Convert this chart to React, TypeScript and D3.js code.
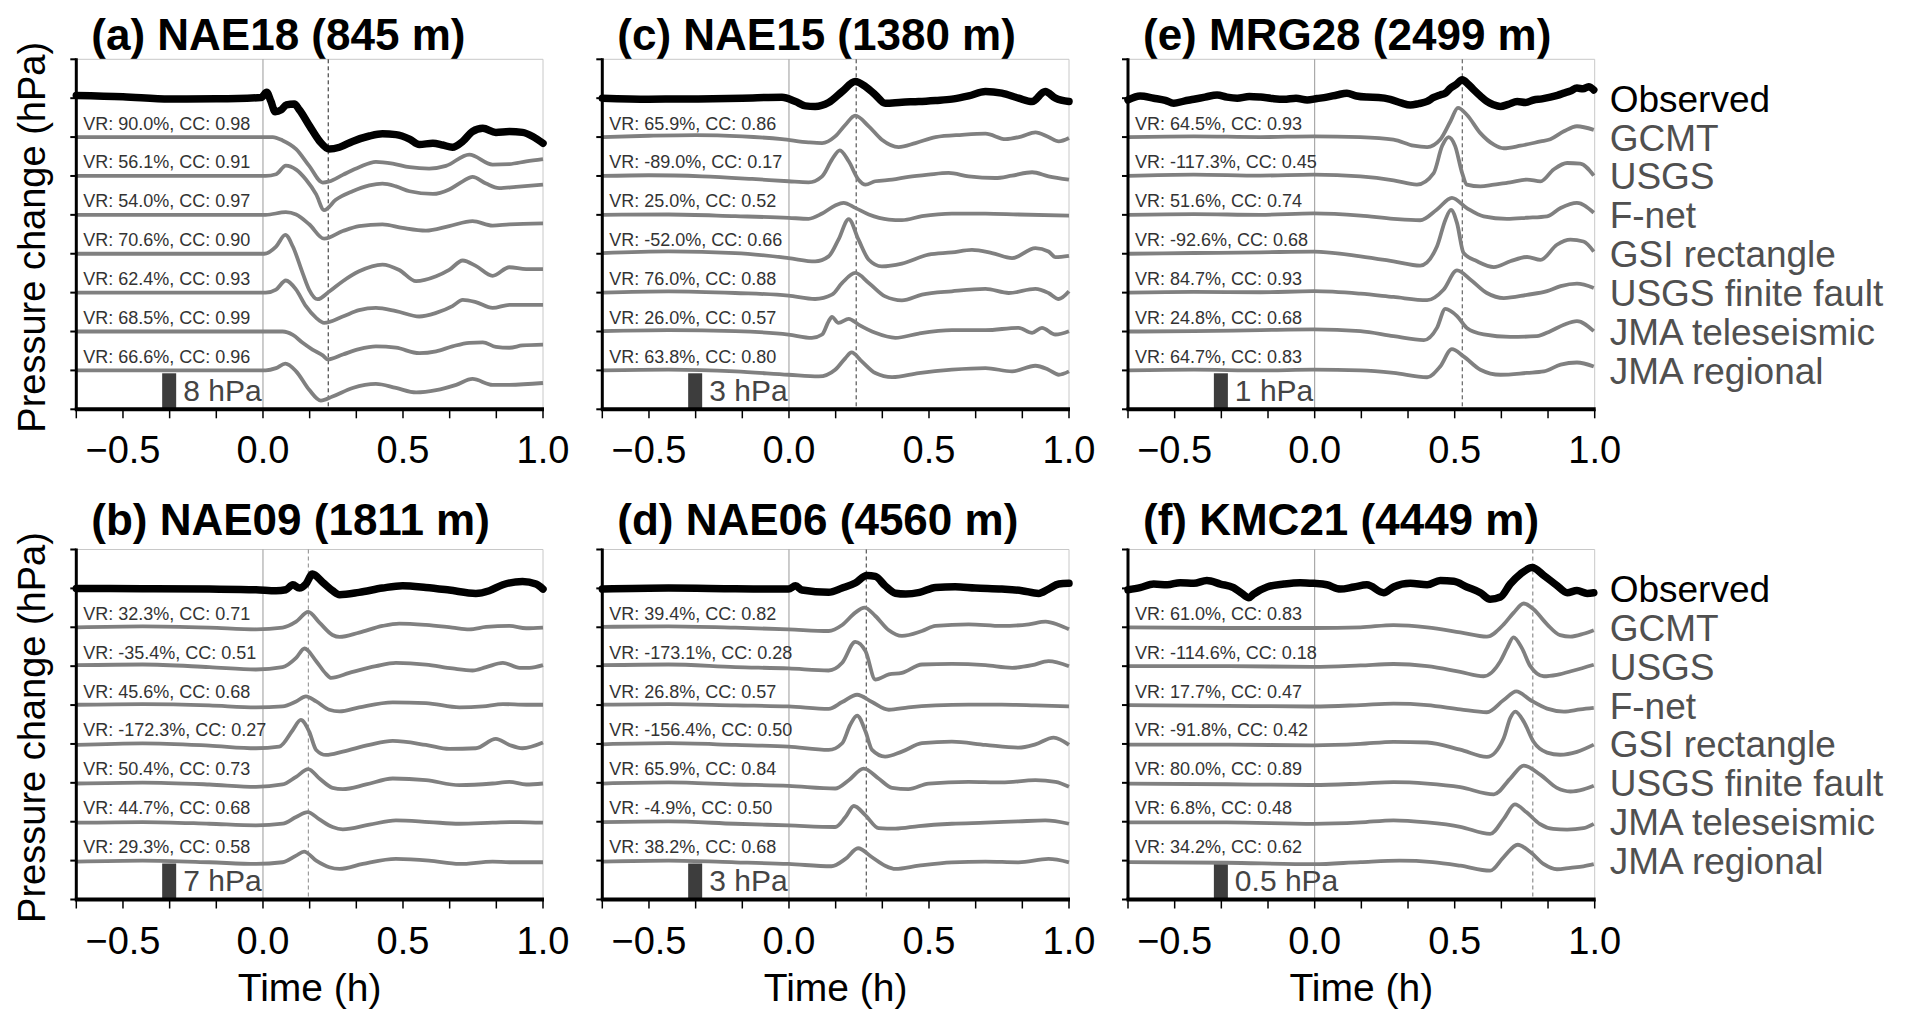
import * as d3 from "d3";

// ---- labels ----
const modelNames = ["GCMT", "USGS", "F-net", "GSI rectangle", "USGS finite fault", "JMA teleseismic", "JMA regional"];
const legendNames = ["Observed", ...modelNames];
const panelTitles = ["(a) NAE18 (845 m)", "(b) NAE09 (1811 m)", "(c) NAE15 (1380 m)", "(d) NAE06 (4560 m)", "(e) MRG28 (2499 m)", "(f) KMC21 (4449 m)"];
const barHpa = [8, 7, 3, 3, 1, 0.5];
const arrivalH = [0.233, 0.162, 0.24, 0.276, 0.527, 0.779];
const xTickMinutes = [-40, -30, -20, -10, 0, 10, 20, 30, 40, 50, 60];
const xLabelValues = [-0.5, 0, 0.5, 1.0];

const vrA = [90.0, 56.1, 54.0, 70.6, 62.4, 68.5, 66.6];
const ccA = [0.98, 0.91, 0.97, 0.90, 0.93, 0.99, 0.96];
const vrB = [32.3, -35.4, 45.6, -172.3, 50.4, 44.7, 29.3];
const ccB = [0.71, 0.51, 0.68, 0.27, 0.73, 0.68, 0.58];
const vrC = [65.9, -89.0, 25.0, -52.0, 76.0, 26.0, 63.8];
const ccC = [0.86, 0.17, 0.52, 0.66, 0.88, 0.57, 0.80];
const vrD = [39.4, -173.1, 26.8, -156.4, 65.9, -4.9, 38.2];
const ccD = [0.82, 0.28, 0.57, 0.50, 0.84, 0.50, 0.68];
const vrE = [64.5, -117.3, 51.6, -92.6, 84.7, 24.8, 64.7];
const ccE = [0.93, 0.45, 0.74, 0.68, 0.93, 0.68, 0.83];
const vrF = [61.0, -114.6, 17.7, -91.8, 80.0, 6.8, 34.2];
const ccF = [0.83, 0.18, 0.47, 0.42, 0.89, 0.48, 0.62];

// ---- waveforms: [minutes, hPa] ----
const obsA = [[-40,0.6],[-30,0.3],[-20,-0.2],[-10,-0.15],[-0.4,0.15],[0.8,1.3],[1.7,-0.7],[2.6,-3.0],[3.9,-2.6],[5,-1.5],[6.7,-1.3],[7.8,-2.6],[10,-6.2],[12.1,-9.5],[14.2,-11.3],[16.4,-10.9],[19.2,-9.6],[22.8,-8.4],[25.6,-7.9],[28.5,-8.1],[31.4,-9.1],[33.5,-10.3],[36.4,-10],[38.5,-10.4],[40.6,-10.9],[42.8,-9.6],[44.9,-7.4],[47.1,-6.7],[49.9,-7.6],[52.8,-7.4],[55.6,-7.6],[57.8,-8.5],[60,-10]];
const modA = [
  [[-40,0],[2.1,0],[4.2,-0.74],[7.1,-2.67],[9.9,-6.4],[12.8,-10.1],[14.2,-9.85],[17.1,-8.4],[20.6,-6.7],[24.2,-5.5],[27.8,-5.9],[31.4,-6.7],[35.6,-7.0],[39.2,-6.4],[44.2,-3.9],[49.2,-6.1],[52.8,-6.0],[56.4,-5.4],[60,-4.9]],
  [[-40,0],[0.6,0],[2.8,0.37],[4.9,2.3],[7.1,1.4],[9.2,-0.8],[11.4,-4.1],[13.1,-7.6],[15.6,-5.3],[19.2,-3.4],[22.8,-2.1],[25.6,-1.7],[28.5,-2.3],[31.4,-3.4],[36.4,-4.0],[39.9,-3.0],[42.8,-1.2],[44.9,-0.2],[47.8,-1.7],[50.6,-2.7],[54.2,-2.4],[60,-1.9]],
  [[-40,0],[0.6,0],[4.9,0.6],[7.1,0.07],[9.9,-2.1],[13.1,-5.3],[17.1,-3.6],[20.6,-2.5],[25.6,-2.1],[29.9,-2.9],[34.9,-3.5],[39.9,-2.5],[44.9,-1.4],[49.2,-2.4],[52.8,-2.1],[60,-1.9]],
  [[-40,0],[0.3,0],[2.8,1.6],[4.8,4.2],[6.4,1.6],[8.5,-4.3],[9.9,-8.0],[11.7,-10.1],[14.2,-8.4],[17.1,-6.1],[20.6,-3.9],[25.6,-2.4],[29.2,-3.6],[32.8,-6.1],[37.1,-5.0],[39.9,-3.6],[42.8,-1.5],[45.6,-2.7],[49.2,-4.9],[52.8,-3.0],[56.4,-3.4],[60,-3.4]],
  [[-40,0],[0.6,0],[2.8,0.67],[4.9,2.7],[7.1,0.67],[9.2,-3.0],[11.4,-5.6],[13.1,-6.7],[17.1,-5.3],[20.6,-3.9],[24.2,-3.4],[28.5,-4.1],[33.5,-5.3],[37.1,-4.5],[40.6,-3.0],[42.8,-1.6],[45.6,-2.1],[49.2,-3.4],[52.8,-2.7],[60,-2.7]],
  [[-40,0],[4.2,0],[6.4,-0.74],[8.5,-2.5],[10.6,-4.0],[12.8,-5.3],[13.9,-6.2],[17.1,-5.1],[20.6,-3.9],[24.2,-3.3],[28.5,-3.6],[33.5,-4.8],[37.1,-4.4],[40.6,-3.3],[44.2,-2.5],[47.1,-2.4],[49.9,-3.4],[52.8,-3.6],[55.6,-3.1],[60,-2.9]],
  [[-40,0],[0.6,0],[2.8,0.5],[4.8,1.5],[7.1,-0.2],[9.9,-4.3],[12.4,-6.7],[14.9,-5.8],[19.2,-3.9],[24.2,-3.0],[28.5,-3.9],[32.8,-4.9],[37.1,-4.4],[41.4,-3.2],[44.9,-1.9],[49.2,-3.2],[52.8,-3.2],[60,-2.8]],
];

const obsB = [[-40,0],[-25.8,-0.06],[-11.5,-0.13],[-1.5,-0.26],[2.8,-0.45],[4.9,-0.26],[6.4,0.71],[7.8,0.06],[9.2,0.84],[10.6,2.79],[12.8,1.17],[14.9,-0.45],[16.4,-1.23],[20.6,-0.78],[25.6,0.06],[29.9,0.52],[34.9,0.19],[39.9,-0.32],[45.6,-0.97],[48.5,-0.45],[51.4,0.71],[55.6,1.36],[58.5,0.84],[60,-0.13]];
const modB = [
  [[-40,0],[-25.8,0.19],[-11.5,-0.06],[-1.5,-0.39],[4.2,-0.06],[7.1,1.1],[9.7,2.98],[12.1,0.91],[14.9,-1.49],[16.4,-1.88],[20.6,-1.04],[25.6,0.26],[29.2,0.71],[34.9,0.45],[40.6,-0.06],[44.2,-0.39],[47.8,0.06],[52.8,0.26],[56.4,-0.19],[60,-0.06]],
  [[-40,0.19],[-25.8,0.32],[-11.5,-0.19],[-1.5,-0.65],[4.2,-0.19],[7.1,1.62],[8.9,3.43],[11.4,0.97],[13.5,-1.49],[14.6,-2.27],[18.5,-1.3],[24.2,0],[28.5,0.65],[34.9,0.32],[40.6,-0.45],[44.9,-0.84],[47.8,-0.19],[51.4,0.65],[55,-0.32],[57.1,-0.32],[60,0.19]],
  [[-40,0.06],[-25.8,0.19],[-11.5,-0.06],[-1.5,-0.45],[4.2,-0.26],[7.1,0.71],[9.2,1.69],[11.4,0.71],[14.2,-0.91],[16.4,-1.23],[20.6,-0.45],[27.8,0.52],[34.9,0.39],[42.1,-0.45],[47.1,-0.26],[51.4,0.19],[56.4,0.06],[60,0.06]],
  [[-40,-0.19],[-25.8,0.13],[-11.5,-0.32],[-1.5,-0.84],[3.5,-0.52],[6.4,2.72],[8.1,4.67],[9.9,2.4],[11.4,-1.17],[13.5,-2.14],[17.1,-1.49],[22.8,-0.19],[27.8,0.58],[34.9,-0.19],[39.9,-0.97],[45.6,-0.84],[49.9,0.97],[52.8,-0.19],[55.6,-0.84],[60,0.26]],
  [[-40,-0.13],[-25.8,0.06],[-11.5,-0.32],[-1.5,-0.78],[4.2,-0.32],[7.1,1.17],[9.7,2.66],[12.1,0.84],[14.9,-0.97],[17.1,-1.23],[22.1,-0.32],[27.8,0.84],[34.9,0.52],[42.1,-0.45],[49.2,-0.13],[52.8,0.19],[56.4,-0.32],[60,-0.13]],
  [[-40,-0.19],[-25.8,-0.06],[-11.5,-0.39],[-1.5,-0.71],[4.2,-0.39],[7.1,0.91],[9.6,1.88],[12.1,0.45],[14.9,-1.04],[17.1,-1.49],[22.8,-0.58],[28.5,0.26],[35.6,-0.06],[42.1,-0.39],[49.2,-0.19],[54.9,-0.06],[60,-0.19]],
  [[-40,-0.19],[-25.8,0],[-11.5,-0.32],[-1.5,-0.65],[4.2,-0.32],[7.1,0.97],[8.8,1.75],[11.4,0],[14.2,-1.3],[16.4,-1.62],[21.4,-0.65],[28.5,0.32],[35.6,0],[42.1,-0.65],[49.2,-0.19],[52.8,-0.32],[60,-0.32]],
];

const obsC = [[-40,0],[-30,-0.08],[-20,-0.06],[-10,0],[-1.5,0.08],[1.4,-0.28],[3.5,-0.64],[5.6,-0.69],[8.5,-0.36],[11.4,0.56],[14.2,1.39],[16.4,0.97],[18.5,0.28],[20.6,-0.42],[24.2,-0.33],[27.8,-0.28],[31.4,-0.19],[34.9,-0.08],[38.5,0.19],[42.1,0.56],[45.6,0.42],[49.2,0],[52.1,-0.28],[54.9,0.56],[57.1,0],[60,-0.28]];
const modC = [
  [[-40,0],[-30,0.11],[-20,0.17],[-10,0.06],[-1.5,-0.17],[4.2,-0.44],[7.1,-0.5],[9.9,0.06],[12.1,1.03],[14.2,1.78],[17.1,0.89],[19.9,-0.22],[23.5,-0.83],[27.1,-0.5],[31.4,0],[37.1,0.19],[42.1,0.28],[46.4,-0.17],[49.9,0.06],[52.8,0.39],[55.6,0],[57.8,-0.36],[60,-0.08]],
  [[-40,0],[-30,0.06],[-18.6,-0.03],[-7.9,-0.25],[-0.1,-0.44],[4.2,-0.53],[7.1,-0.03],[9.2,1.36],[10.9,2.14],[12.8,1.22],[14.9,-0.31],[16.4,-0.72],[18.5,-0.44],[22.1,-0.31],[25.6,-0.08],[29.9,0.11],[34.2,0.25],[38.5,-0.03],[44.2,-0.17],[47.8,0.03],[52.1,0.31],[55.6,-0.03],[60,-0.31]],
  [[-40,0],[-25.8,0.03],[-11.5,-0.11],[-0.1,-0.25],[4.2,-0.33],[7.1,0.11],[9.9,0.78],[11.7,1.0],[14.2,0.58],[17.1,0.03],[21.4,-0.39],[24.2,-0.44],[28.5,-0.11],[34.9,0.11],[42.1,0.11],[49.2,0.03],[60,-0.06]],
  [[-40,0.06],[-25.8,0.19],[-11.5,0.06],[-0.1,-0.36],[5.6,-0.64],[8.5,-0.22],[10.6,1.17],[12.8,2.89],[14.9,1.17],[17.1,-0.5],[19.9,-1.06],[24.2,-0.83],[29.9,-0.08],[34.9,0.11],[39.2,0.33],[43.5,0.06],[47.8,-0.36],[52.8,0.47],[55.6,0.19],[57.1,-0.28],[60,-0.17]],
  [[-40,0],[-25.8,0.11],[-11.5,-0.03],[-0.1,-0.25],[5.6,-0.53],[9.2,-0.17],[11.4,0.81],[14.2,1.64],[17.1,0.81],[20.6,-0.31],[24.2,-0.64],[28.5,-0.17],[34.9,0.11],[42.1,0.31],[47.1,-0.03],[52.8,0.31],[55.6,-0.03],[57.8,-0.53],[60,0.11]],
  [[-40,0.03],[-25.8,0.11],[-11.5,0.03],[-0.1,-0.25],[4.9,-0.53],[7.1,-0.25],[8.5,0.86],[9.2,1.22],[10.6,0.72],[12.8,1.06],[14.9,0.58],[18.5,-0.11],[22.8,-0.53],[27.8,-0.17],[34.9,0.11],[42.1,0.11],[49.2,0.31],[52.1,-0.11],[54.2,0.31],[57.1,-0.25],[60,0.03]],
  [[-40,0],[-25.8,0.06],[-11.5,-0.08],[-0.1,-0.36],[6.4,-0.5],[9.9,0.06],[12.1,1.03],[13.4,1.5],[15.6,0.75],[18.5,-0.22],[22.1,-0.56],[27.8,-0.22],[34.9,0.06],[42.1,0.19],[47.8,-0.08],[52.8,0.39],[55.6,0.06],[57.8,-0.36],[60,-0.08]],
];

const obsD = [[-40,-0.06],[-25.8,0.03],[-11.5,-0.03],[-0.1,-0.06],[1.4,0.22],[2.8,-0.14],[8.5,-0.33],[11.4,0.03],[14.2,0.45],[16.7,1.08],[18.5,1.0],[20.6,0.22],[22.8,-0.4],[25,-0.47],[28,-0.33],[31.4,0.08],[35.6,0.14],[39.9,0.03],[45.6,-0.06],[49.9,-0.19],[53.5,-0.42],[55.6,-0.06],[57.8,0.36],[60,0.42]];
const modD = [
  [[-40,0.03],[-25.8,0.08],[-11.5,-0.03],[-0.1,-0.17],[8.5,-0.31],[11.4,0.19],[14.2,1.22],[16.2,1.64],[18.5,0.94],[21.4,-0.25],[24.2,-0.72],[28.5,-0.31],[31.4,0.11],[38.5,0.25],[45.6,0.11],[51.4,0.25],[55,0.47],[57.8,0.19],[60,-0.17]],
  [[-40,0.08],[-25.8,0.14],[-11.5,-0.08],[-0.1,-0.19],[8.5,-0.36],[11.4,0.28],[14.2,2.03],[16.4,1.25],[18.5,-1.11],[21.4,-0.69],[24.2,-0.56],[28.5,0.14],[34.9,0.19],[42.1,0.08],[47.8,-0.14],[52.1,0.08],[55.6,0.42],[60,0]],
  [[-40,0.03],[-25.8,0.08],[-11.5,-0.03],[-0.1,-0.11],[8.5,-0.31],[11.4,0.25],[14.6,0.86],[17.8,0.25],[21.4,-0.39],[25.6,-0.19],[31.4,-0.03],[38.5,0.03],[45.6,0.03],[52.8,-0.03],[60,-0.11]],
  [[-40,-0.03],[-25.8,0.06],[-11.5,-0.08],[-0.1,-0.22],[8.5,-0.5],[11.4,0.06],[13.1,1.58],[14.6,2.36],[16.4,1.03],[17.8,-0.5],[20.6,-1.06],[24.2,-0.64],[28.5,0.06],[34.9,0.19],[42.1,-0.08],[49.2,-0.31],[52.8,-0.03],[56.7,0.53],[60,-0.08]],
  [[-40,-0.06],[-25.8,0.03],[-11.5,-0.14],[-0.1,-0.25],[9.9,-0.47],[12.8,0.22],[16,1.19],[19.2,0.36],[22.1,-0.42],[25.6,-0.53],[29.9,-0.06],[38.5,0.08],[45.6,0.03],[52.8,0.22],[57.1,0.08],[60,-0.33]],
  [[-40,-0.03],[-25.8,0.03],[-11.5,-0.17],[-0.1,-0.31],[9.9,-0.44],[12.1,0.39],[13.9,1.31],[16.4,0.53],[19.2,-0.53],[22.8,-0.58],[27.8,-0.36],[34.9,-0.17],[42.1,-0.08],[49.2,0.03],[54.9,0.11],[60,-0.17]],
  [[-40,-0.08],[-25.8,0],[-11.5,-0.14],[-0.1,-0.28],[9.1,-0.47],[12.1,0.14],[14.8,1.03],[17.8,0.28],[20.6,-0.42],[22.8,-0.69],[27.8,-0.42],[34.9,-0.14],[42.1,-0.08],[49.2,-0.14],[55.6,0.14],[60,-0.14]],
];

const obsE = [[-40,-0.05],[-37.4,0.06],[-34.5,0],[-32,-0.06],[-30.2,-0.14],[-28,-0.08],[-25.9,-0.03],[-23.5,0.03],[-20.9,0.09],[-18.8,0.03],[-16.6,0],[-14,0.05],[-11.6,0.03],[-9,-0.01],[-6.6,-0.03],[-4,0],[-1.6,-0.05],[0.5,-0.01],[2.6,0.03],[4.8,0.09],[6.9,0.14],[9,0.06],[11.2,0.03],[13.7,0.02],[16.2,-0.03],[18.5,-0.13],[20.5,-0.19],[22.3,-0.15],[24.1,-0.09],[25.5,0.02],[26.9,0.09],[28,0.14],[29.1,0.28],[30.3,0.38],[31.6,0.51],[32.8,0.4],[34.1,0.23],[35.5,0.06],[36.9,-0.09],[38.3,-0.18],[39.8,-0.23],[41.5,-0.17],[43.4,-0.09],[45.2,-0.12],[46.9,-0.05],[48.7,-0.02],[50.5,0.03],[52,0.08],[53.4,0.14],[54.8,0.2],[56.2,0.28],[57.5,0.26],[58.7,0.32],[59.8,0.23]];
const modE = [
  [[-40,0],[-25.9,0.02],[-11.6,0],[-0.2,0.02],[9.8,0],[16.9,-0.07],[21.2,-0.24],[24.1,-0.28],[26.9,-0.07],[29.1,0.44],[30.7,0.81],[32.6,0.62],[35.5,0.11],[38.4,-0.21],[40.5,-0.31],[44.1,-0.24],[48.4,-0.12],[50.5,-0.06],[53.4,0.16],[56.2,0.3],[59.8,0.2]],
  [[-40,0],[-25.9,0.04],[-11.6,0.01],[-0.2,0.04],[9.8,-0.01],[16.9,-0.12],[21.9,-0.24],[25.5,0.08],[27.3,0.83],[28.7,1.08],[30.1,0.83],[31.6,0.08],[32.6,-0.24],[35.5,-0.29],[38.4,-0.24],[41.9,-0.18],[45.5,-0.1],[48.4,-0.15],[51.2,0.18],[54.1,0.36],[56.9,0.34],[59.8,0.01]],
  [[-40,0],[-25.9,0.02],[-11.6,0],[-0.2,0.04],[9.8,-0.02],[16.9,-0.11],[22.6,-0.15],[26.2,0.15],[29.4,0.47],[32.6,0.19],[36.2,-0.04],[41.2,-0.11],[45.5,-0.08],[49.8,-0.04],[52.7,0.19],[56.2,0.33],[59.8,0.06]],
  [[-40,0],[-25.9,0.02],[-11.6,0.04],[-0.2,0.06],[9.8,-0.07],[16.9,-0.21],[22.6,-0.33],[26.2,0.2],[28,0.94],[29.2,1.22],[30.5,0.85],[31.9,0.02],[34.8,-0.21],[38.4,-0.37],[41.9,-0.21],[45.5,-0.09],[48.4,-0.17],[51.9,0.25],[54.8,0.39],[57.6,0.34],[59.8,0.06]],
  [[-40,0],[-25.9,0.02],[-11.6,0.01],[-0.2,0.04],[9.8,-0.03],[16.9,-0.12],[24.1,-0.21],[27.6,0.08],[30.5,0.62],[33.4,0.36],[36.9,-0.01],[40.5,-0.15],[45.5,-0.06],[49.8,0.04],[52.7,0.18],[56.2,0.25],[59.8,0.13]],
  [[-40,0],[-25.9,0.01],[-11.6,0.04],[-0.2,0.06],[9.8,0.01],[16.9,-0.13],[23.4,-0.24],[26.2,0.1],[28,0.63],[30.5,0.43],[32.6,0.1],[36.2,-0.08],[41.9,-0.15],[47.6,-0.13],[50.5,0.01],[53.4,0.19],[56.2,0.29],[59.8,0.01]],
  [[-40,0],[-25.9,0.02],[-11.6,0],[-0.2,0.02],[9.8,0],[16.9,-0.07],[24.1,-0.19],[26.9,0.11],[29.4,0.59],[31.9,0.39],[35.5,0.02],[39.8,-0.12],[45.5,-0.07],[49.1,-0.03],[52.7,0.16],[56.2,0.22],[59.8,0.11]],
];

const obsF = [[-40,-0.02],[-37.4,0.01],[-34.5,0.06],[-31.6,0.05],[-28.8,0.08],[-25.9,0.07],[-23.1,0.11],[-20.2,0.06],[-17.4,0.01],[-15.6,-0.07],[-14.1,-0.13],[-13.1,-0.08],[-10.2,0.02],[-6.6,0.06],[-3.1,0.08],[-0.2,0.07],[2.6,0.05],[5.5,-0.01],[8.4,0.02],[11.2,0.05],[14.8,-0.06],[16.9,0.02],[20.5,0.07],[24.1,0.05],[26.9,0.11],[29.8,0.1],[32.6,0.02],[35.5,-0.06],[37.6,-0.15],[39.8,-0.12],[41.9,0.06],[44.1,0.2],[46.6,0.29],[49.1,0.18],[51.9,0.04],[54.1,-0.06],[56.2,-0.03],[58.4,-0.07],[59.8,-0.06]];
const modF = [
  [[-40,0],[-18.8,-0.01],[-0.2,-0.01],[9.8,0],[16.9,0.03],[24.1,0],[31.2,-0.07],[36.9,-0.13],[40.5,0.04],[42.6,0.2],[44.8,0.33],[46.9,0.25],[49.8,0.04],[52.6,-0.11],[54.8,-0.13],[57.6,-0.09],[59.8,-0.04]],
  [[-40,0],[-18.8,0],[-0.2,-0.01],[9.8,0.01],[16.9,0.03],[24.1,0],[31.2,-0.08],[36.2,-0.14],[39.8,0.07],[41.2,0.25],[42.6,0.4],[44.4,0.25],[46.2,0],[49.1,-0.14],[51.9,-0.12],[55.5,-0.06],[59.8,0.02]],
  [[-40,0],[-18.8,-0.01],[-0.2,-0.02],[9.8,0],[16.9,0.02],[24.1,0],[31.2,-0.06],[36.9,-0.1],[40.5,0.07],[43.2,0.19],[46.2,0.07],[49.8,-0.05],[53.4,-0.09],[56.9,-0.06],[59.8,-0.04]],
  [[-40,-0.01],[-18.8,-0.01],[-0.2,-0.02],[9.8,0],[16.9,0.03],[24.1,0.02],[31.2,-0.08],[36.9,-0.18],[40.5,0.08],[41.9,0.36],[43,0.45],[44.8,0.31],[46.9,0.03],[49.8,-0.12],[52.6,-0.15],[56.2,-0.11],[59.8,-0.01]],
  [[-40,-0.01],[-18.8,-0.02],[-0.2,-0.03],[9.8,-0.01],[16.9,0.01],[24.1,-0.01],[31.2,-0.06],[38.4,-0.16],[41.9,0.06],[44.8,0.24],[48.4,0.11],[51.9,-0.07],[54.8,-0.12],[57.6,-0.09],[59.8,-0.04]],
  [[-40,-0.01],[-18.8,-0.01],[-0.2,-0.03],[9.8,-0.01],[16.9,0.02],[24.1,-0.01],[31.2,-0.07],[37.6,-0.17],[40.5,0.04],[42.9,0.24],[45.4,0.13],[48.2,-0.03],[51.1,-0.1],[54.1,-0.11],[57.6,-0.09],[59.8,-0.03]],
  [[-40,-0.02],[-18.8,-0.03],[-0.2,-0.05],[9.8,-0.02],[18.2,0],[25.3,-0.02],[31.2,-0.07],[37.6,-0.14],[40.5,0.05],[43.5,0.22],[46.2,0.12],[49.1,-0.05],[51.9,-0.12],[54.8,-0.1],[57.6,-0.08],[59.8,-0.05]],
];

// ---- layout ----
const FONT = "'Liberation Sans', Arial, Helvetica, sans-serif";
const colLeft = [76.3, 602.3, 1128];
const rowTop = [59.3, 549.5];
const PW = 466.7;
const PH = 350;
const titleBase = [50, 535];
const BAR_FRAC = 0.926; // scale bar height relative to trace spacing

const panels = [
  { title: panelTitles[0], col: 0, row: 0, bar: barHpa[0], arr: arrivalH[0], obs: obsA, mods: modA, vr: vrA, cc: ccA, dash: "#222" },
  { title: panelTitles[1], col: 0, row: 1, bar: barHpa[1], arr: arrivalH[1], obs: obsB, mods: modB, vr: vrB, cc: ccB, dash: "#888" },
  { title: panelTitles[2], col: 1, row: 0, bar: barHpa[2], arr: arrivalH[2], obs: obsC, mods: modC, vr: vrC, cc: ccC, dash: "#333" },
  { title: panelTitles[3], col: 1, row: 1, bar: barHpa[3], arr: arrivalH[3], obs: obsD, mods: modD, vr: vrD, cc: ccD, dash: "#333" },
  { title: panelTitles[4], col: 2, row: 0, bar: barHpa[4], arr: arrivalH[4], obs: obsE, mods: modE, vr: vrE, cc: ccE, dash: "#444" },
  { title: panelTitles[5], col: 2, row: 1, bar: barHpa[5], arr: arrivalH[5], obs: obsF, mods: modF, vr: vrF, cc: ccF, dash: "#777" },
];

function Panel({ p }: { p: any }) {
  const left = colLeft[p.col];
  const right = left + PW;
  const top = rowTop[p.row];
  const bottom = top + PH;
  const sep = p.bar / BAR_FRAC;

  const x = d3.scaleLinear().domain([-2 / 3, 1]).range([left, right]);
  const y = d3.scaleLinear().domain([0, 9 * sep]).range([bottom, top]);
  const slots = d3.range(10);

  const lineAt = (slot: number) =>
    d3
      .line<number[]>()
      .x((d) => x(d[0] / 60))
      .y((d) => y(slot * sep + d[1]))
      .curve(d3.curveMonotoneX);

  const fmt = (vr: number, cc: number) => `VR: ${vr.toFixed(1)}%, CC: ${cc.toFixed(2)}`;

  return (
    <g>
      <text x={left + 15} y={titleBase[p.row]} fontSize={44} fontWeight="bold" fontFamily={FONT}>
        {p.title}
      </text>
      {/* frame */}
      <line x1={left} x2={right} y1={top} y2={top} stroke="#c8c8c8" strokeWidth={1} />
      <line x1={right} x2={right} y1={top} y2={bottom} stroke="#c8c8c8" strokeWidth={1} />
      <line x1={x(0)} x2={x(0)} y1={top} y2={bottom} stroke="#999" strokeWidth={1} />
      <line x1={x(p.arr)} x2={x(p.arr)} y1={top} y2={bottom} stroke={p.dash} strokeWidth={1} strokeDasharray="4,3" />

      {/* scale bar */}
      <rect x={x(-0.36)} width={x(-0.31) - x(-0.36)} y={y(p.bar)} height={y(0) - y(p.bar)} fill="#3d3d3d" />
      <text x={x(-0.285)} y={bottom - 8.5} fontSize={30} fill="#444" fontFamily={FONT}>
        {`${p.bar} hPa`}
      </text>

      {/* model traces */}
      {p.mods.map((m: number[][], k: number) => (
        <path key={k} d={lineAt(7 - k)(m) || ""} fill="none" stroke="#808080" strokeWidth={3.8} strokeLinejoin="round" />
      ))}
      <path d={lineAt(8)(p.obs) || ""} fill="none" stroke="#000" strokeWidth={7.5} strokeLinejoin="round" strokeLinecap="round" />

      {p.mods.map((_: any, k: number) => (
        <text key={k} x={left + 7} y={y((7 - k) * sep) - 7.5} fontSize={18} fill="#333" fontFamily={FONT}>
          {fmt(p.vr[k], p.cc[k])}
        </text>
      ))}

      {/* axes */}
      <line x1={left} x2={left} y1={top - 1} y2={bottom} stroke="#000" strokeWidth={3} />
      <line x1={left - 1.5} x2={right + 1} y1={bottom} y2={bottom} stroke="#000" strokeWidth={4} />
      {slots.map((s) => (
        <line key={s} x1={left - 6} x2={left} y1={y(s * sep)} y2={y(s * sep)} stroke="#000" strokeWidth={2} />
      ))}
      {xTickMinutes.map((m) => (
        <line key={m} x1={x(m / 60)} x2={x(m / 60)} y1={bottom} y2={bottom + 9} stroke="#000" strokeWidth={1.5} />
      ))}
      {xLabelValues.map((v) => (
        <text key={v} x={x(v)} y={bottom + 54} fontSize={38} textAnchor="middle" fontFamily={FONT}>
          {v < 0 ? `\u2212${Math.abs(v).toFixed(1)}` : v.toFixed(1)}
        </text>
      ))}
      {p.row === 1 && (
        <text x={(left + right) / 2} y={1001} fontSize={39} textAnchor="middle" fontFamily={FONT}>
          Time (h)
        </text>
      )}
      {p.col === 0 && (
        <text
          transform={`translate(45,${(top + bottom) / 2 + 3}) rotate(-90)`}
          fontSize={38}
          textAnchor="middle"
          fontFamily={FONT}
        >
          Pressure change (hPa)
        </text>
      )}
      {p.col === 2 &&
        legendNames.map((n, i) => (
          <text key={n} x={right + 15} y={y((8 - i) * sep) + 13.5} fontSize={37} fill={i === 0 ? "#000" : "#505050"} fontFamily={FONT}>
            {n}
          </text>
        ))}
    </g>
  );
}

export default function App() {
  return (
    <svg width={1908} height={1011} style={{ position: "absolute", left: 0, top: 0, background: "#fff" }}>
      <rect width={1908} height={1011} fill="#fff" />
      {panels.map((p, i) => (
        <Panel key={i} p={p} />
      ))}
    </svg>
  );
}
